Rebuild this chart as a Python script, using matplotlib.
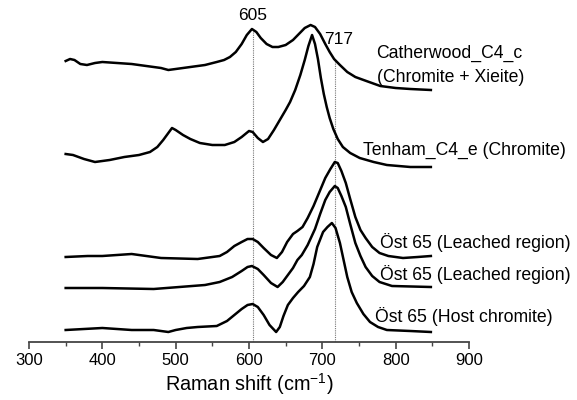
import matplotlib.pyplot as plt

plt.rcParams['font.family'] = ['Liberation Sans', 'DejaVu Sans']
plt.rcParams['mathtext.fontset'] = 'custom'
plt.rcParams['mathtext.rm'] = 'Liberation Sans'

# spectra, offset intensities (arb. units)
cath_x = [350, 356, 362, 370, 379, 390, 400, 420, 440, 460, 480, 490, 500, 520,
          540, 556, 566, 574, 582, 590, 597, 604, 610, 616, 624, 632, 640, 650,
          660, 668, 676, 684, 690, 697, 704, 710, 716, 724, 734, 745, 760, 779,
          800, 820, 848]
cath_y = [281, 283, 282, 278, 277, 279, 280, 279, 278, 276, 274, 272, 273, 275,
          277, 280, 282, 285, 290, 298, 307, 313, 310, 304, 298, 295, 295, 297,
          302, 308, 314, 317, 315, 308, 298, 290, 283, 277, 270, 265, 261, 256,
          254, 253, 252]

tenh_x = [350, 360, 375, 390, 410, 430, 450, 465, 475, 483, 490, 495, 500, 510,
          520, 533, 550, 567, 580, 590, 600, 605, 612, 619, 626, 634, 642, 650,
          656, 663, 670, 676, 681, 686, 690, 694, 698, 702, 706, 710, 715, 721,
          728, 738, 751, 770, 788, 820, 848]
tenh_y = [188, 187, 183, 180, 182, 185, 187, 190, 195, 202, 209, 214, 212, 207,
          203, 199, 197, 197, 200, 205, 211, 210, 204, 200, 203, 212, 222, 232,
          240, 252, 267, 282, 296, 307, 298, 283, 264, 248, 235, 224, 213, 203,
          195, 189, 184, 180, 177, 175, 175]

leach1_x = [350, 380, 400, 440, 480, 530, 560, 570, 580, 590, 598, 605, 612,
            620, 630, 638, 645, 652, 660, 666, 673, 680, 688, 696, 704, 711,
            717, 721, 726, 732, 738, 745, 752, 759, 768, 778, 790, 810, 830, 848]
leach1_y = [85, 86, 86, 88, 84, 83, 86, 90, 96, 100, 103, 103, 100, 94, 87, 84,
            90, 100, 108, 111, 115, 124, 136, 150, 164, 173, 180, 179, 171, 159,
            143, 125, 112, 104, 95, 89, 86, 84, 85, 86]

leach2_x = [350, 400, 470, 540, 560, 577, 590, 598, 604, 612, 620, 630, 639,
            646, 653, 660, 666, 672, 680, 690, 697, 704, 710, 717, 721, 726,
            732, 738, 745, 752, 759, 768, 778, 795, 848]
leach2_y = [54, 54, 53, 57, 60, 65, 71, 75, 76, 73, 67, 59, 55, 60, 67, 74, 82,
            87, 97, 113, 128, 142, 150, 156, 154, 146, 135, 118, 99, 86, 75, 66,
            60, 56, 55]

host_x = [350, 400, 440, 470, 480, 490, 500, 515, 530, 556, 570, 580, 590, 598,
          605, 612, 620, 628, 637, 642, 647, 653, 660, 667, 675, 683, 688, 693,
          701, 707, 713, 718, 724, 729, 734, 740, 747, 756, 765, 776, 788, 820,
          848]
host_y = [12, 14, 12, 12, 11, 10, 12, 14, 15, 16, 21, 27, 33, 37, 38, 35, 27,
          17, 10, 15, 26, 37, 44, 50, 56, 65, 78, 95, 110, 115, 119, 114, 99,
          82, 65, 50, 39, 28, 20, 15, 12, 11, 10]

peaks = [605, 717]
peak_tops = [313, 282]

fig = plt.figure(figsize=(5.77, 4.0), dpi=100)
ax = fig.add_axes([29 / 577, 58 / 400, 440 / 577, 342 / 400])

for p, top in zip(peaks, peak_tops):
    ax.plot([p, p], [0, top], color='#777777', lw=0.8, ls=(0, (1, 1)))

for xs, ys in [(cath_x, cath_y), (tenh_x, tenh_y), (leach1_x, leach1_y),
               (leach2_x, leach2_y), (host_x, host_y)]:
    ax.plot(xs, ys, color='black', lw=1.8, solid_joinstyle='round')

ax.text(605, 327, '605', ha='center', va='center', fontsize=12.5)
ax.text(722, 303, '717', ha='center', va='center', fontsize=12.5)

fs = 12.7
ax.text(774, 289, 'Catherwood_C4_c', ha='left', va='center', fontsize=fs)
ax.text(774, 265, '(Chromite + Xieite)', ha='left', va='center', fontsize=fs)
ax.text(756, 192, 'Tenham_C4_e (Chromite)', ha='left', va='center', fontsize=fs)
ax.text(778, 99, 'Öst 65 (Leached region)', ha='left', va='center', fontsize=fs)
ax.text(779, 67, 'Öst 65 (Leached region)', ha='left', va='center', fontsize=fs)
ax.text(772, 25, 'Öst 65 (Host chromite)', ha='left', va='center', fontsize=fs)

ax.set_xlim(300, 900)
ax.set_ylim(0, 342)
ax.set_xticks([300, 400, 500, 600, 700, 800, 900])
ax.set_xticks(range(350, 900, 100), minor=True)
ax.set_yticks([])
for s in ['left', 'right', 'top']:
    ax.spines[s].set_visible(False)
ax.spines['bottom'].set_color('#444444')
ax.spines['bottom'].set_linewidth(1.3)
ax.tick_params(axis='x', which='major', direction='out', length=5, width=1.2,
               color='#444444', labelsize=12, pad=3)
ax.tick_params(axis='x', which='minor', direction='out', length=3, width=1.0,
               color='#444444')
ax.set_xlabel('Raman shift (cm$^{-1}$)', fontsize=14.3, labelpad=2)

fig.savefig('out.png', dpi=100)
